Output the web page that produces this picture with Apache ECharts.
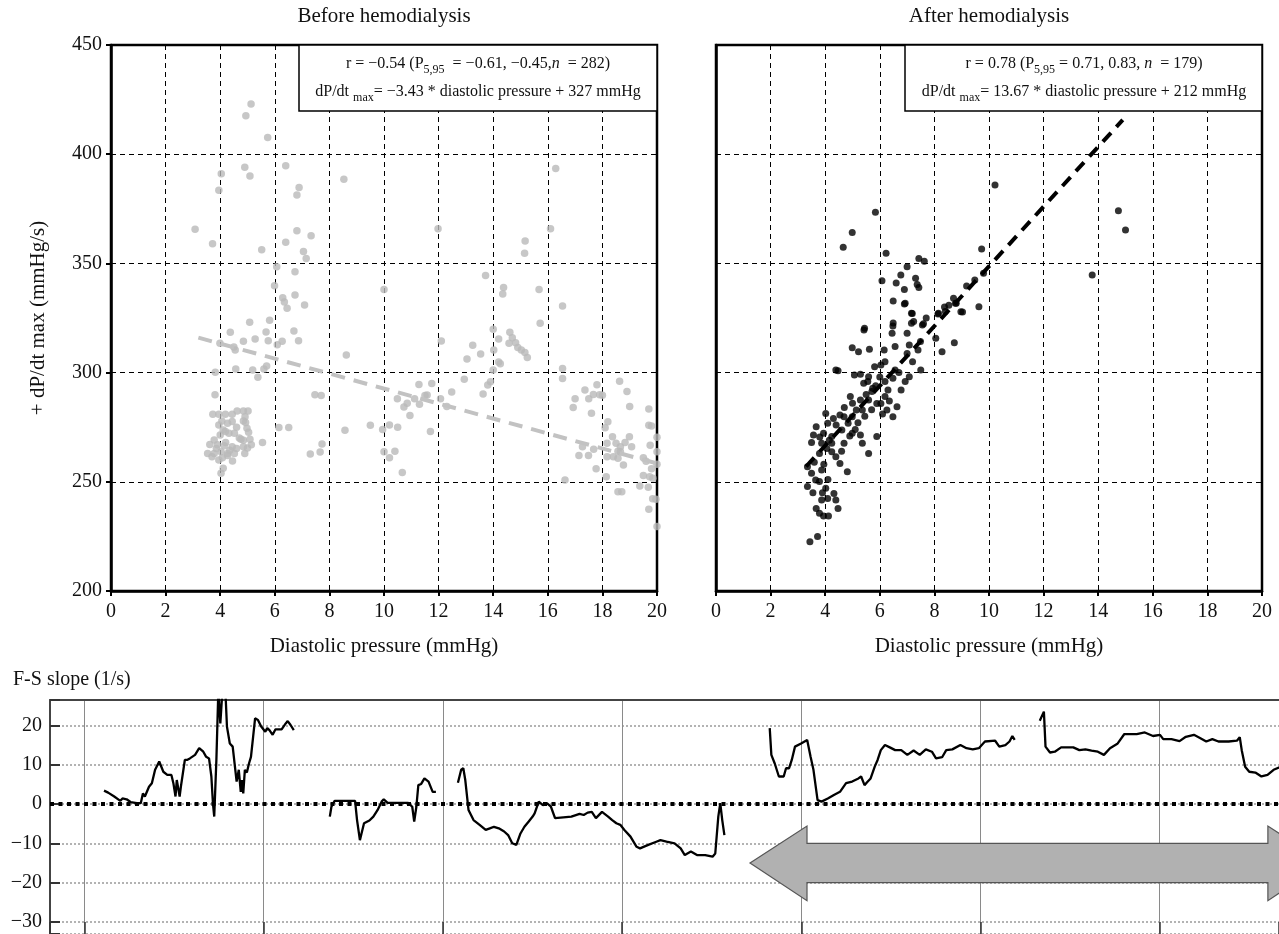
<!DOCTYPE html>
<html><head><meta charset="utf-8">
<script src="https://cdn.jsdelivr.net/npm/echarts@6/dist/echarts.min.js"></script>
<style>html,body{margin:0;padding:0;background:#fff}#c{width:1279px;height:934px}</style>
</head><body><div id="c"></div>
<script>
// ---------- DATA ----------
const panelTitles = ['Before hemodialysis', 'After hemodialysis'];
const xAxisName = 'Diastolic pressure (mmHg)';
const yAxisName = '+ dP/dt max (mmHg/s)';
const fsTitle = 'F-S slope (1/s)';

// Before hemodialysis: [diastolic pressure, dP/dt max]
const beforePoints = [
 [5.13,423],[4.94,417.6],[5.74,407.6],[6.4,394.7],[4.9,394],[5.09,390],[4.04,391],[3.95,383.5],[6.89,384.7],[6.81,381.3],
 [8.53,388.5],[16.29,393.4],[3.08,365.6],[3.72,359],[5.52,356.3],[6.4,359.7],[6.81,365],[7.33,362.7],[7.05,355.5],[7.15,352.3],
 [6.07,348.5],[6.74,346.2],[5.99,339.8],[6.29,334.3],[6.35,332.3],[6.45,329.5],[6.74,335.5],[7.09,331],[5.08,323],[5.81,324],
 [11.98,365.9],[16.1,365.9],[15.17,360.3],[15.15,354.6],[10.0,338],[13.72,344.5],[14.38,339],[14.35,336],[15.68,338],[16.54,330.5],[15.72,322.6],
 [4.37,318.5],[5.68,318.6],[5.76,314.6],[5.28,315.4],[3.99,313.4],[4.5,311.7],[4.85,314.3],[4.55,310.3],[6.27,314.3],[6.7,319],
 [6.87,314.6],[6.09,312.8],[4.57,301.6],[5.19,301.2],[5.38,297.9],[5.6,301.6],[5.7,303],[3.82,300.2],[8.62,308.1],[12.1,314.5],
 [14.0,319.8],[14.2,315.4],[14.61,318.5],[14.58,313.4],[14.82,313.7],[14.7,316],[14.9,311.5],[15.03,310.3],[15.16,309.2],[15.25,306.9],
 [13.25,312.5],[13.54,308.5],[13.04,306.2],[14.02,310.3],[14.2,304.9],[14.26,304],[14.0,301.2],[13.9,295.8],[13.8,294.3],[12.94,297],
 [13.63,290.2],[12.48,291.1],[11.28,294.6],[11.75,295],[11.58,289.7],[12.07,288],[12.3,284.5],[10.49,288],[10.73,284.2],[10.95,280.3],
 [11.12,288],[11.5,289.5],[10.85,286],[11.3,285.5],[9.5,275.9],[9.95,274],[10.2,276],[10.5,275],[10.0,263.8],[10.2,261],
 [10.4,264],[10.67,254.3],[8.57,273.6],[7.47,289.9],[7.7,289.5],[7.73,267.3],[7.66,263.7],[7.3,262.7],[6.15,274.9],[6.51,274.9],
 [5.55,268],[4.85,269],[5.14,267],[11.7,273],
 [16.54,301.9],[16.54,297.3],[17.0,288],[16.93,284],[17.36,292],[17.5,288],[17.67,290],[17.8,294.4],[17.9,289.9],[17.6,281.4],
 [18.0,289.6],[18.63,296],[18.9,291.3],[19.0,284.5],[18.2,277.5],[18.1,274.7],
 [18.17,267.6],[18.37,270.6],[18.5,267.6],[18.66,266],[18.83,268],[18.99,270.6],[19.07,266],[18.66,263.8],[18.4,261.5],[18.17,261.5],
 [18.57,260.8],[18.77,257.7],[18.57,264],[17.68,264.9],[17.27,266],[17.14,262],[17.49,262],[17.77,256],[18.14,252.3],[18.57,245.5],[18.71,245.5],
 [19.7,283.3],[19.7,275.9],[19.8,275.5],[19.75,266.7],[20.0,270.4],[20.0,263.8],[19.5,261],[19.6,259.4],[19.8,256],[19.5,252.9],
 [19.73,252.3],[19.85,251.6],[19.37,248.1],[19.68,247.5],[19.84,242.2],[19.96,242],[19.7,237.4],[20,229.5],[20,258],[16.63,250.8],
 [3.81,289.9],[3.73,280.9],[3.95,280.9],[4.19,280.9],[4.44,280.9],[4.62,282.4],[4.85,282.4],[5.02,282.4],[4.91,279.8],[4.85,277.8],
 [4.44,277.6],[4.27,276.8],[4.06,277.8],[3.95,276],[4.11,273.7],[4.19,273],[4.32,272.2],[4.52,272.2],[4.0,271.4],[3.78,269.1],
 [3.62,267.1],[3.54,263],[3.78,263],[4.03,263.8],[4.27,263],[4.44,266],[4.6,265.3],[4.85,266],[3.86,265.3],[3.95,260],
 [4.08,261],[4.27,262],[4.52,263],[4.11,256.2],[4.03,253.9],[4.98,274.5],[5.04,272.7],[5.09,269.5],[4.76,269.5],[4.93,277.2],
 [4.7,270],[4.2,268],[3.9,267],[4.6,275],[4.35,264.5],[4.15,266.5],[3.7,261.5],[4.45,259.5],[4.9,263],[5.0,265.5]
];

// After hemodialysis: [diastolic pressure, dP/dt max]
const afterPoints = [
 [10.22,385.9],[5.84,373.4],[4.99,364.2],[4.66,357.4],[14.74,374.1],[15.0,365.3],[13.78,344.7],[9.73,356.6],[6.23,354.6],[7.43,352.3],
 [7.63,351],[7.0,348.5],[6.77,344.7],[6.08,342],[7.31,343.2],[7.37,340.3],[7.43,339],[9.8,345.5],[9.48,342.4],[9.18,339.6],
 [8.7,334],[8.77,331.7],[8.53,330.8],[8.37,330],[8.97,327.9],[9.63,330.2],[6.49,332.8],[6.93,331.8],[7.16,327.2],[8.15,327.2],
 [7.24,323.4],[7.6,322.4],[6.49,322.7],[5.44,320.3],
 [6.9,331.4],[7.19,327.1],[7.16,322.6],[7.56,321.8],[6.48,321.3],[6.45,318],[5.42,319.5],[8.13,326.8],[8.8,331.7],[9.03,327.7],
 [8.73,313.7],[8.28,309.6],[8.05,315.7],[7.49,314.2],[7.4,310.3],[7.08,312.6],[7.0,308.8],[6.56,311.9],[6.16,310.3],[6.19,305],
 [5.62,310.7],[4.99,311.4],[5.22,309.6],[5.81,302.7],[6.04,303.5],[6.56,301.2],[7.5,301.2],[4.47,300.9],[4.39,301.2],[5.07,298.9],
 [5.29,299.3],[5.59,298.1],[5.56,295.9],[5.74,292.8],[5.41,295.1],[6.19,295.9],[6.48,297.4],[7.08,298.1],[6.93,295.9],[6.78,292],
 [6.19,289],[6.04,285.9],[6.63,284.4],[6.48,279.8],[6.26,282.9],[5.89,285.9],[5.59,287.5],[5.36,282.9],[5.14,282.9],[4.99,279.8],
 [4.69,279.8],[4.54,280.6],[4.02,281.3],[4.09,276.8],[4.61,273.7],[4.84,276.8],[4.99,272.2],[5.29,271.4],[5.36,267.6],[5.59,263],
 [5.89,270.7],[4.24,270.7],[3.94,272.2],[3.67,275.2],[3.57,271.4],[3.87,267.6],[4.06,265.3],[3.79,263],[4.24,263.8],[4.39,261.5],
 [4.54,258.4],[4.81,254.6],[3.35,256.9],[3.5,253.9],[3.87,255.4],[3.65,250.8],[3.35,247.8],[3.79,250.1],[4.02,247],[4.32,244.7],
 [4.39,241.7],[4.09,242.4],[3.87,241.7],[3.67,237.8],[3.79,235.6],[3.94,234.3],[4.12,234.3],[4.47,237.8],[3.44,222.6],[3.72,224.9],
 [4.24,267.6],[4.69,267.6],[5.29,287.5],[4.92,289],[5.71,291.3],
 [3.5,268],[3.6,259],[3.95,258],[4.15,269],[4.4,276],[4.7,284],[5.0,286],[5.5,290],[5.85,294],[6.0,298],
 [6.3,292],[5.7,283],[5.2,277],[4.9,271],[4.3,279],[3.8,270.5],[4.1,251],[3.9,245],[3.55,245],[4.6,264],
 [5.1,274],[5.45,280],[6.1,281],[6.35,287],[6.7,300],[7.2,305],[7.0,318],[7.7,325],[8.4,328],[6.6,341],[6.9,338]
];

// Regression line end points (as drawn)
const beforeTrend = [[3.2,316],[20,258.4]];
const afterTrend = [[3.3,257],[14.9,415.7]];

// Annotation texts
const beforeStats = ['r = \u22120.54 (P', '5,95', '  = \u22120.61, \u22120.45,', 'n', '  = 282)'];
const beforeEq = ['dP/dt ', 'max', '= \u22123.43 * diastolic pressure + 327 mmHg'];
const afterStats = ['r = 0.78 (P', '5,95', ' = 0.71, 0.83, ', 'n', '  = 179)'];
const afterEq = ['dP/dt ', 'max', '= 13.67 * diastolic pressure + 212 mmHg'];

// F-S slope trace segments: [time, slope]
const fsSeg1 = [[1.09,3.4],[1.32,2.9],[1.66,1.9],[2.0,0.8],[2.12,1.4],[2.35,1.2],[2.57,0.5],[2.92,0.2],[3.14,0.2],[3.26,2.7],
 [3.37,1.9],[3.6,4.4],[3.76,5.3],[3.94,8.7],[4.17,10.8],[4.4,8.2],[4.62,7.4],[4.85,7.4],[4.96,5.3],[5.08,1.9],[5.15,6.1],[5.31,1.9],
 [5.38,4.4],[5.6,11.2],[5.72,11.2],[5.88,11.6],[6.17,12.5],[6.4,14.2],[6.63,13.3],[6.79,12.0],[6.95,11.6],[7.08,7.0],[7.17,0],
 [7.24,-3.2],[7.36,11.2],[7.47,29],[7.58,20.5],[7.7,29],[7.86,29],[7.95,19.7],[8.11,15.4],[8.27,14.6],[8.38,15.0],[8.49,5.7],
 [8.61,8.7],[8.72,3.1],[8.79,6.1],[8.86,2.7],[8.95,8.7],[9.06,8.0],[9.18,10.3],[9.29,12.0],[9.41,17.1],[9.52,21.8],[9.68,21.4],
 [9.86,19.7],[10.09,18.4],[10.2,19.3],[10.32,18.8],[10.5,17.6],[10.66,19.0],[11.0,19.0],[11.23,20.5],[11.34,21.1],[11.5,20.1],[11.68,18.8]];
const fsSeg2 = [[13.69,-3.2],[13.78,-0.7],[13.96,0.8],[14.19,0.8],[14.87,0.8],[15.1,0.8],[15.21,-4.1],[15.37,-9.2],[15.46,-7.5],
 [15.6,-4.9],[15.9,-4.2],[16.12,-3.2],[16.36,-1.5],[16.58,0.6],[16.7,1.2],[16.92,0.3],[17.15,0.3],[17.6,0.3],[18.06,0.3],[18.17,0],
 [18.29,-0.7],[18.4,-4.5],[18.52,-0.7],[18.63,4.8],[18.79,5.1],[18.97,6.5],[19.2,5.7],[19.31,6.1],[19.43,3.1],[19.54,2.7],[19.61,3.1]];
const fsSeg3 = [[20.84,5.4],[21.02,8.7],[21.14,9.1],[21.25,6.1],[21.43,-1.5],[21.71,-4.1],[22.05,-5.3],[22.39,-6.6],[22.62,-6.2],
 [22.85,-5.8],[23.12,-6.2],[23.42,-7.0],[23.64,-7.9],[23.87,-10.0],[24.1,-10.4],[24.33,-7.5],[24.55,-5.8],[24.78,-4.5],[25.01,-3.2],
 [25.12,-2.4],[25.35,0.6],[25.58,-0.3],[25.8,0.2],[26.03,-0.7],[26.26,-3.6],[26.72,-3.4],[27.17,-3.2],[27.63,-2.5],[27.86,-2.8],
 [28.08,-2.2],[28.31,-2.0],[28.54,-3.6],[28.88,-2.0],[29.22,-3.2],[29.45,-4.1],[29.68,-4.9],[29.9,-5.3],[30.13,-6.6],[30.47,-8.3],
 [30.81,-10.9],[31.0,-11.3],[31.46,-10.4],[31.91,-9.6],[32.14,-9.2],[32.48,-9.6],[32.93,-10.0],[33.27,-11.3],[33.5,-13.0],[33.84,-12.1],
 [34.18,-13.0],[34.64,-13.0],[35.05,-13.4],[35.2,-12.6],[35.37,-3.2],[35.48,0.2],[35.59,-4.1],[35.71,-7.9]];
const fsSeg4 = [[38.24,19.3],[38.33,12.5],[38.52,10.3],[38.75,7.0],[39.02,7.0],[39.15,9.1],[39.32,9.1],[39.47,11.2],[39.65,14.6],
 [39.99,15.4],[40.33,16.3],[40.52,12.0],[40.68,8.7],[40.91,1.0],[41.13,0.6],[41.48,1.4],[41.82,2.3],[42.16,3.1],[42.5,5.3],[42.84,5.7],
 [43.19,6.5],[43.34,7.0],[43.53,4.8],[43.71,5.7],[43.87,6.5],[44.1,9.5],[44.26,11.2],[44.44,13.7],[44.67,15.0],[44.94,14.4],[45.24,13.7],
 [45.58,13.7],[45.92,12.5],[46.27,13.6],[46.61,12.5],[46.95,13.9],[47.29,13.3],[47.52,11.6],[47.86,11.9],[48.09,13.7],[48.43,13.9],
 [48.88,15.0],[49.22,14.2],[49.57,13.9],[49.91,14.2],[50.25,15.9],[50.82,16.1],[51.05,14.6],[51.39,15.0],[51.62,15.9],[51.78,17.3],[51.91,16.3]];
const fsSeg5 = [[53.31,21.2],[53.54,23.5],[53.63,14.6],[53.88,13.1],[54.15,13.3],[54.5,14.4],[55.18,14.4],[55.52,13.7],[55.86,13.9],
 [56.2,13.6],[56.55,13.3],[56.89,12.5],[57.23,14.2],[57.64,15.3],[58.03,17.8],[58.38,17.8],[58.72,17.8],[59.17,18.2],[59.63,17.3],
 [60.02,17.6],[60.2,16.5],[60.66,16.5],[61.11,16.0],[61.46,17.1],[61.91,17.6],[62.25,16.8],[62.6,15.9],[62.94,16.5],[63.28,15.9],
 [63.85,15.9],[64.31,16.1],[64.47,17.0],[64.58,13.7],[64.77,9.5],[65.0,8.2],[65.34,8.0],[65.68,7.0],[66.02,7.4],[66.36,8.7],[66.76,9.5]];

// Double-headed arrow (in F-S plot data units): tips, head bases, body and head extents
const arrowTips = [37.14, 69.2];
const arrowHeadBases = [40.32, 66.04];
const arrowBody = [-10, -20];
const arrowHead = [-5.6, -24.6];

// visible window of the F-S plot (the panel is cropped at the right and bottom)
const fsTimeRange = [-1.925, 66.66];
const fsSlopeRange = [-33.08, 26.46];

// ---------- CHART ----------
const FONT = '"Liberation Serif","Times New Roman",serif';
const chart = echarts.init(document.getElementById('c'), null, {renderer: 'canvas', width: 1279, height: 934});

const dash = {color: '#000', width: 1, type: [5, 4]};
function topX(gi) {
  return {
    gridIndex: gi, type: 'value', min: 0, max: 20, interval: 2,
    name: xAxisName, nameLocation: 'middle', nameGap: 45,
    nameTextStyle: {fontFamily: FONT, fontSize: 21, color: '#111'},
    axisLine: {show: true, onZero: false, lineStyle: {color: '#000', width: 2.5}},
    axisTick: {show: true, length: 5, lineStyle: {color: '#000', width: 2}},
    axisLabel: {fontFamily: FONT, fontSize: 20, color: '#111', margin: 11},
    splitLine: {show: true, lineStyle: dash}
  };
}
function topY(gi, labels) {
  return {
    gridIndex: gi, type: 'value', min: 200, max: 450, interval: 50,
    name: labels ? yAxisName : '', nameLocation: 'middle', nameGap: 62,
    nameTextStyle: {fontFamily: FONT, fontSize: 21, color: '#111'},
    axisLine: {show: true, onZero: false, lineStyle: {color: '#000', width: 2.5}},
    axisTick: {show: labels, length: 5, lineStyle: {color: '#000', width: 2}},
    axisLabel: {show: labels, fontFamily: FONT, fontSize: 20, color: '#111', margin: 9},
    splitLine: {show: true, lineStyle: dash}
  };
}

function richLine(parts, subIdx, italIdx) {
  let s = '';
  parts.forEach((p, i) => {
    const key = subIdx.includes(i) ? 's' : (italIdx.includes(i) ? 'i' : 't');
    s += '{' + key + '|' + p + '}';
  });
  return s;
}
const richStyles = {
  t: {fontFamily: FONT, fontSize: 16, lineHeight: 24, verticalAlign: 'middle', fill: '#111', color: '#111'},
  i: {fontFamily: FONT, fontSize: 16, fontStyle: 'italic', lineHeight: 24, verticalAlign: 'middle', fill: '#111', color: '#111'},
  s: {fontFamily: FONT, fontSize: 12, lineHeight: 11, verticalAlign: 'bottom', fill: '#111', color: '#111'}
};
function textEl(x, y, text, size) {
  return {
    type: 'text', x: x, y: y, z: 100,
    style: {text: text, font: size + 'px ' + FONT, fill: '#111', align: 'center', textAlign: 'center',
            verticalAlign: 'middle', textVerticalAlign: 'middle'}
  };
}
function richEl(x, y, text) {
  return {
    type: 'text', x: x, y: y, z: 100,
    style: {text: text, rich: richStyles, fill: '#111', font: '16px ' + FONT,
            align: 'center', textAlign: 'center', verticalAlign: 'middle', textVerticalAlign: 'middle'}
  };
}

const option = {
  backgroundColor: '#fff',
  animation: false,
  grid: [
    {left: 111, top: 45, width: 546, height: 546, show: true, borderColor: '#000', borderWidth: 2.5, backgroundColor: 'transparent'},
    {left: 716, top: 45, width: 546, height: 546, show: true, borderColor: '#000', borderWidth: 2.5, backgroundColor: 'transparent'},
    {left: 50, top: 700, width: 1229, height: 234, show: false}
  ],
  xAxis: [
    topX(0), topX(1),
    {gridIndex: 2, type: 'value', min: fsTimeRange[0], max: fsTimeRange[1], splitNumber: 7, position: 'bottom',
     axisLine: {show: false, onZero: false},
     axisTick: {show: true, inside: true, length: 12, lineStyle: {color: '#333', width: 1.5}},
     axisLabel: {show: false},
     splitLine: {show: true, lineStyle: {color: '#8a8a8a', width: 1, type: 'solid'}}},
    {gridIndex: 2, type: 'value', min: fsTimeRange[0], max: fsTimeRange[1], position: 'top',
     axisLine: {show: true, onZero: false, lineStyle: {color: '#444', width: 2}},
     axisTick: {show: false}, axisLabel: {show: false}, splitLine: {show: false}}
  ],
  yAxis: [
    topY(0, true), topY(1, false),
    {gridIndex: 2, type: 'value', min: fsSlopeRange[0], max: fsSlopeRange[1], splitNumber: 6,
     axisLine: {show: true, onZero: false, lineStyle: {color: '#444', width: 2}},
     axisTick: {show: true, inside: true, length: 10, lineStyle: {color: '#333', width: 2}},
     axisLabel: {fontFamily: FONT, fontSize: 20, color: '#111', margin: 8,
       formatter: v => (Math.abs(v % 10) < 1e-6 ? (v < 0 ? '\u2212' + (-v) : String(v)) : '')},
     splitLine: {show: true, lineStyle: {color: '#9a9a9a', width: 1.5, type: [2, 2]}}}
  ],
  series: [
    {type: 'scatter', xAxisIndex: 0, yAxisIndex: 0, data: beforePoints, symbolSize: 7.5,
     itemStyle: {color: '#b9b9b9'}, z: 3},
    {type: 'line', xAxisIndex: 0, yAxisIndex: 0, data: beforeTrend, symbol: 'none',
     lineStyle: {color: '#c2c2c2', width: 4, type: [14, 9]}, z: 4},
    {type: 'scatter', xAxisIndex: 1, yAxisIndex: 1, data: afterPoints, symbolSize: 7,
     itemStyle: {color: '#000'}, z: 3},
    {type: 'line', xAxisIndex: 1, yAxisIndex: 1, data: afterTrend, symbol: 'none',
     lineStyle: {color: '#000', width: 4, type: [12, 8]}, z: 4},
    {type: 'line', xAxisIndex: 2, yAxisIndex: 2, data: fsSeg1, symbol: 'none',
     lineStyle: {color: '#000', width: 2.3}, z: 5,
     markLine: {silent: true, symbol: ['none', 'none'], label: {show: false},
       lineStyle: {color: '#000', width: 4, type: [4, 4.5]}, data: [{yAxis: 0}]}},
    {type: 'line', xAxisIndex: 2, yAxisIndex: 2, data: fsSeg2, symbol: 'none', lineStyle: {color: '#000', width: 2.3}, z: 5},
    {type: 'line', xAxisIndex: 2, yAxisIndex: 2, data: fsSeg3, symbol: 'none', lineStyle: {color: '#000', width: 2.3}, z: 5},
    {type: 'line', xAxisIndex: 2, yAxisIndex: 2, data: fsSeg4, symbol: 'none', lineStyle: {color: '#000', width: 2.3}, z: 5},
    {type: 'line', xAxisIndex: 2, yAxisIndex: 2, data: fsSeg5, symbol: 'none', lineStyle: {color: '#000', width: 2.3}, z: 5}
  ]
};
chart.setOption(option);

// arrow polygon from data coordinates
const P = (t, v) => chart.convertToPixel({xAxisIndex: 2, yAxisIndex: 2}, [t, v]);
const mid = (arrowBody[0] + arrowBody[1]) / 2;
const arrowPts = [
  P(arrowTips[0], mid), P(arrowHeadBases[0], arrowHead[0]), P(arrowHeadBases[0], arrowBody[0]),
  P(arrowHeadBases[1], arrowBody[0]), P(arrowHeadBases[1], arrowHead[0]), P(arrowTips[1], mid),
  P(arrowHeadBases[1], arrowHead[1]), P(arrowHeadBases[1], arrowBody[1]), P(arrowHeadBases[0], arrowBody[1]),
  P(arrowHeadBases[0], arrowHead[1])
];

chart.setOption({
  graphic: [
    textEl(384, 16, panelTitles[0], 21),
    textEl(989, 16, panelTitles[1], 21),
    {type: 'text', x: 13, y: 680, z: 100,
     style: {text: fsTitle, font: '20px ' + FONT, fill: '#111', align: 'left', textAlign: 'left',
             verticalAlign: 'middle', textVerticalAlign: 'middle'}},
    {type: 'rect', z: 90, shape: {x: 299, y: 45, width: 358, height: 66},
     style: {fill: '#fff', stroke: '#000', lineWidth: 1.5}},
    richEl(478, 64, richLine(beforeStats, [1], [3])),
    richEl(478, 92, richLine(beforeEq, [1], [])),
    {type: 'rect', z: 90, shape: {x: 905, y: 45, width: 357, height: 66},
     style: {fill: '#fff', stroke: '#000', lineWidth: 1.5}},
    richEl(1084, 64, richLine(afterStats, [1], [3])),
    richEl(1084, 92, richLine(afterEq, [1], [])),
    {type: 'polygon', z: 50, shape: {points: arrowPts},
     style: {fill: '#b1b1b1', stroke: '#555', lineWidth: 1.2}}
  ]
});
</script>
</body></html>
